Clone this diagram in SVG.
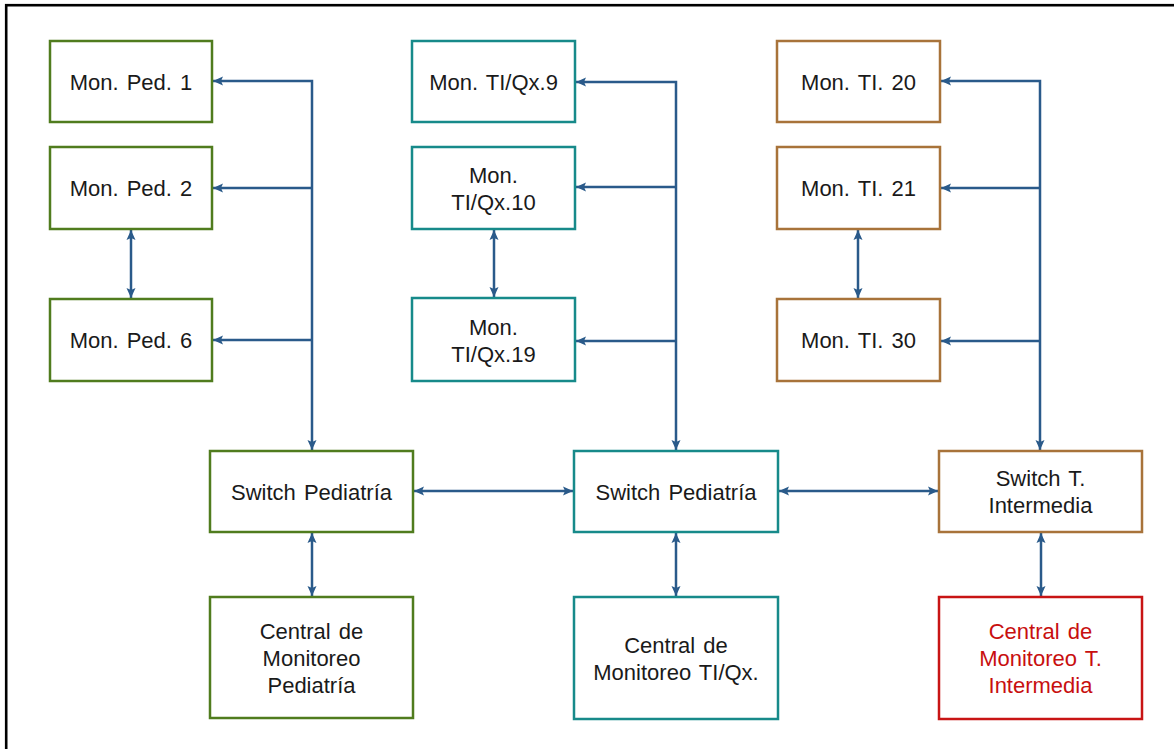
<svg xmlns="http://www.w3.org/2000/svg" width="1174" height="749" viewBox="0 0 1174 749">
<style>
.n rect{fill:#fff;stroke-width:2.5}
.g rect{stroke:#507c1e}
.t rect{stroke:#178a8a}
.b rect{stroke:#a8733a}
.r rect{stroke:#c81414}
text{font-family:"Liberation Sans",Arial,sans-serif;font-size:22px;fill:#1a1a1a;text-anchor:middle;word-spacing:2px}
.r text{fill:#c80f0f}
.c path{fill:none;stroke:#2a5a8a;stroke-width:2.5}
</style>
<defs>
<marker id="ah" viewBox="0 0 10 10" refX="10" refY="5" markerWidth="10" markerHeight="11" markerUnits="userSpaceOnUse" orient="auto-start-reverse">
<path d="M0,0.5 L10,5 L0,9.5 L2,5 z" fill="#2a5a8a"/>
</marker>
</defs>
<rect x="6.2" y="5.2" width="1200" height="800" fill="#fff" stroke="#000" stroke-width="2.6"/>

<g class="c">
<path d="M213,81 H312 V450" marker-start="url(#ah)" marker-end="url(#ah)"/>
<path d="M312,188 H213" marker-end="url(#ah)"/>
<path d="M312,340 H213" marker-end="url(#ah)"/>
<path d="M131,230 V298" marker-start="url(#ah)" marker-end="url(#ah)"/>
<path d="M312,533 V596" marker-start="url(#ah)" marker-end="url(#ah)"/>

<path d="M576,82 H676 V450" marker-start="url(#ah)" marker-end="url(#ah)"/>
<path d="M676,187 H576" marker-end="url(#ah)"/>
<path d="M676,341 H576" marker-end="url(#ah)"/>
<path d="M494,230 V297" marker-start="url(#ah)" marker-end="url(#ah)"/>
<path d="M676,533 V596" marker-start="url(#ah)" marker-end="url(#ah)"/>

<path d="M941,81 H1040 V450" marker-start="url(#ah)" marker-end="url(#ah)"/>
<path d="M1040,188 H941" marker-end="url(#ah)"/>
<path d="M1040,341 H941" marker-end="url(#ah)"/>
<path d="M858,230 V298" marker-start="url(#ah)" marker-end="url(#ah)"/>
<path d="M1041,533 V596" marker-start="url(#ah)" marker-end="url(#ah)"/>

<path d="M414,491 H573" marker-start="url(#ah)" marker-end="url(#ah)"/>
<path d="M779,491 H938" marker-start="url(#ah)" marker-end="url(#ah)"/>
</g>

<g id="ped1" class="n g"><rect x="50" y="41" width="162" height="81"/><text x="131" y="90">Mon. Ped. 1</text></g>
<g id="ped2" class="n g"><rect x="50" y="147" width="162" height="82"/><text x="131" y="196">Mon. Ped. 2</text></g>
<g id="ped6" class="n g"><rect x="50" y="299" width="162" height="82"/><text x="131" y="348">Mon. Ped. 6</text></g>
<g id="swped" class="n g"><rect x="210" y="451" width="203" height="81"/><text x="311.5" y="500">Switch Pediatría</text></g>
<g id="cenped" class="n g"><rect x="210" y="597" width="203" height="121"/><text x="311.5" y="639">Central de</text><text x="311.5" y="666">Monitoreo</text><text x="311.5" y="693">Pediatría</text></g>

<g id="tiqx9" class="n t"><rect x="412" y="41" width="163" height="81"/><text x="493.5" y="90">Mon. TI/Qx.9</text></g>
<g id="tiqx10" class="n t"><rect x="412" y="147" width="163" height="82"/><text x="493.5" y="183">Mon.</text><text x="493.5" y="210">TI/Qx.10</text></g>
<g id="tiqx19" class="n t"><rect x="412" y="298" width="163" height="83"/><text x="493.5" y="335">Mon.</text><text x="493.5" y="362">TI/Qx.19</text></g>
<g id="swtiqx" class="n t"><rect x="574" y="451" width="204" height="81"/><text x="676" y="500">Switch Pediatría</text></g>
<g id="centiqx" class="n t"><rect x="574" y="597" width="204" height="122"/><text x="676" y="653">Central de</text><text x="676" y="680">Monitoreo TI/Qx.</text></g>

<g id="ti20" class="n b"><rect x="777" y="41" width="163" height="81"/><text x="858.5" y="90">Mon. TI. 20</text></g>
<g id="ti21" class="n b"><rect x="777" y="147" width="163" height="82"/><text x="858.5" y="196">Mon. TI. 21</text></g>
<g id="ti30" class="n b"><rect x="777" y="299" width="163" height="82"/><text x="858.5" y="348">Mon. TI. 30</text></g>
<g id="swti" class="n b"><rect x="939" y="451" width="203" height="81"/><text x="1040.5" y="486">Switch T.</text><text x="1040.5" y="513">Intermedia</text></g>
<g id="centi" class="n r"><rect x="939" y="597" width="203" height="122"/><text x="1040.5" y="639">Central de</text><text x="1040.5" y="666">Monitoreo T.</text><text x="1040.5" y="693">Intermedia</text></g>
</svg>
